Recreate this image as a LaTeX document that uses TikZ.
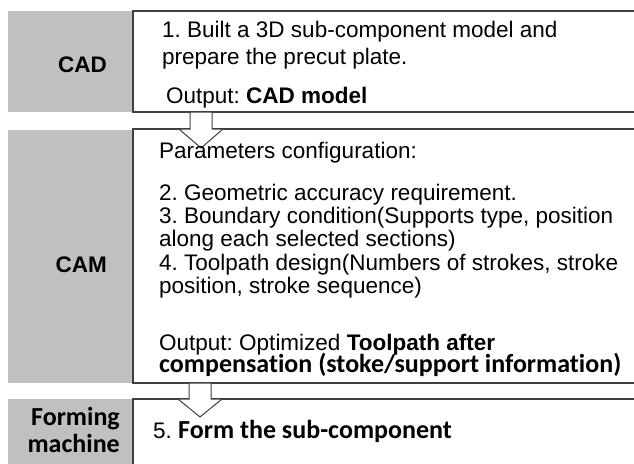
\documentclass[tikz,border=0pt]{standalone}
\usepackage{fontspec}
\setmainfont{Liberation Sans}
\newfontfamily\carlitofont{Carlito}[Ligatures={NoCommon,NoRare}]
\usetikzlibrary{calc}
\definecolor{bandgray}{RGB}{192,192,192}
\definecolor{edgecol}{RGB}{64,64,64}
\newcommand\bodysize{\fontsize{22.5pt}{27pt}\selectfont}
\newcommand\calsize{\carlitofont\bfseries\fontsize{26pt}{30pt}\selectfont}
\frenchspacing
\begin{document}
\begin{tikzpicture}[x=1pt,y=-1pt,
  band/.style={fill=bandgray, draw=none, inner sep=0pt, outer sep=0pt, anchor=north west},
  box/.style={fill=white, draw=edgecol, line width=1.3pt, inner sep=0pt, outer sep=0pt, anchor=north west},
  txt/.style={anchor=base west, inner sep=0pt, font=\bodysize},
  lbl/.style={anchor=base east, inner sep=0pt, font=\bodysize\bfseries},
  cal/.style={anchor=base east, inner sep=0pt, font=\calsize},
  blockarrow/.style={fill=white, draw=edgecol, line width=1pt, line join=miter}]
\useasboundingbox (0,0) rectangle (634,463);
\clip (0,0) rectangle (634,463);
% bands and boxes
\node[band, minimum width=125pt, minimum height=101pt] (cadband) at (8,11) {};
\node[box, minimum width=520pt, minimum height=101pt] (cadbox) at (133,11) {};
\node[band, minimum width=125pt, minimum height=253pt] (camband) at (8,130) {};
\node[box, minimum width=520pt, minimum height=254pt] (cambox) at (133,129) {};
\node[band, minimum width=125pt, minimum height=80pt] (formband) at (8,399) {};
\node[box, minimum width=520pt, minimum height=80pt] (formbox) at (133,399) {};
% block arrows
\draw[blockarrow] let \p1=($(cadbox.south west)+(68,0)$), \p2=(cambox.north west) in
  (\x1-11pt,\y1) -- (\x1-11pt,\y2) -- (\x1-22pt,\y2) -- (\x1,\y2-19pt) --
  (\x1+22pt,\y2) -- (\x1+11pt,\y2) -- (\x1+11pt,\y1) -- cycle;
\draw[blockarrow] let \p1=($(cambox.south west)+(67,0)$), \p2=(formbox.north west) in
  (\x1-11pt,\y1) -- (\x1-11pt,\y2) -- (\x1-22pt,\y2) -- (\x1,\y2-18pt) --
  (\x1+22pt,\y2) -- (\x1+11pt,\y2) -- (\x1+11pt,\y1) -- cycle;
% CAD
\node[lbl] (cadl) at (107,72) {CAD};
\node[txt] (c1) at (162,37) {1. Built a 3D sub-component model and};
\node[txt] (c2) at (162,64) {prepare the precut plate.};
\node[txt] (c3) at (166,103) {Output: \textbf{CAD model}};
% CAM
\node[lbl] (caml) at (107,272) {CAM};
\node[txt] (m0) at (159,158) {Parameters configuration:};
\node[txt] (m1) at (159,200) {2. Geometric accuracy requirement.};
\node[txt] (m2) at (159,223) {3. Boundary condition(Supports type, position};
\node[txt] (m3) at (159,246) {along each selected sections)};
\node[txt] (m4) at (159,270) {4. Toolpath design(Numbers of strokes, stroke};
\node[txt] (m5) at (159,293) {position, stroke sequence)};
\node[txt] (m6) at (159,350) {Output: Optimized \textbf{Toolpath after}};
\node[txt, font=\calsize] (m7) at (159,372) {compensation (stoke/support information)};
% Forming
\node[cal] (f1) at (120,425) {Forming};
\node[cal] (f2) at (120,452) {machine};
\node[txt] (f3) at (153,438) {5. {\calsize Form the sub-component}};
\end{tikzpicture}
\end{document}
